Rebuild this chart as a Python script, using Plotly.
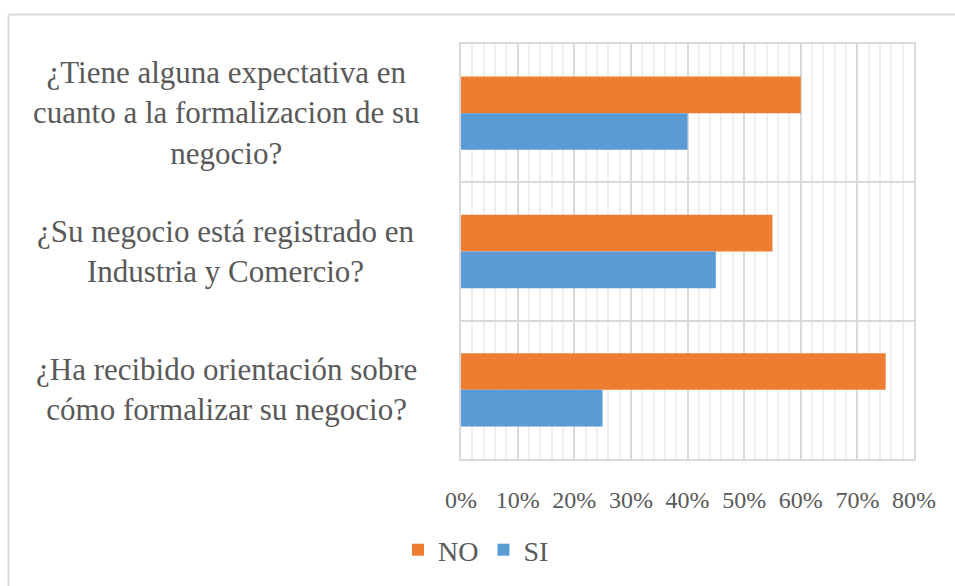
import plotly.graph_objects as go

categories = [
    "¿Tiene alguna expectativa en<br>cuanto a la formalizacion de su<br>negocio?",
    "¿Su negocio está registrado en<br>Industria y Comercio?",
    "¿Ha recibido orientación sobre<br>cómo formalizar su negocio?",
]
no_values = [0.60, 0.55, 0.75]
si_values = [0.40, 0.45, 0.25]
tick_vals = [0, 0.1, 0.2, 0.3, 0.4, 0.5, 0.6, 0.7, 0.8]
tick_text = ["0%", "10%", "20%", "30%", "40%", "50%", "60%", "70%", "80%"]

W, H = 955, 586
L, R, T, B = 461, 41, 44, 126
pw, ph = W - L - R, H - T - B

FONT = "Liberation Serif, Times New Roman, serif"
TXT = "#595959"
GRID = "#d9d9d9"

fig = go.Figure()
fig.add_trace(go.Bar(name="NO", y=categories, x=no_values, orientation="h",
                     marker=dict(color="#ED7D31", line=dict(width=0))))
fig.add_trace(go.Bar(name="SI", y=categories, x=si_values, orientation="h",
                     marker=dict(color="#5B9BD5", line=dict(width=0))))

def px_x(p):
    return (p - L) / pw

def px_y(p):
    return 1 - (p - T) / ph

annotations = []
for c in categories:
    annotations.append(dict(x=px_x(226), xref="paper", y=c, yref="y",
                            text=c, showarrow=False, xanchor="center", yanchor="middle",
                            align="center", font=dict(family=FONT, size=31, color=TXT)))

shapes = [
    dict(type="line", xref="paper", yref="paper", x0=px_x(8.5), x1=px_x(8.5),
         y0=px_y(700), y1=px_y(14.5), line=dict(color=GRID, width=2)),
    dict(type="line", xref="paper", yref="paper", x0=px_x(8.5), x1=px_x(1000),
         y0=px_y(14.5), y1=px_y(14.5), line=dict(color=GRID, width=2)),
]

fig.update_layout(
    width=W, height=H,
    margin=dict(l=L, r=R, t=T, b=B, pad=0),
    paper_bgcolor="white", plot_bgcolor="white",
    barmode="group", bargap=0.47, bargroupgap=0,
    font=dict(family=FONT, color=TXT),
    showlegend=True,
    legend=dict(orientation="h", x=px_x(398), xanchor="left", y=px_y(550), yanchor="middle",
                font=dict(family=FONT, size=28, color=TXT), bgcolor="rgba(0,0,0,0)",
                itemwidth=30, traceorder="normal"),
    annotations=annotations,
    shapes=shapes,
    xaxis=dict(range=[0, 0.8], tickvals=tick_vals, ticktext=tick_text,
               showgrid=True, gridcolor=GRID, gridwidth=1.5,
               zeroline=False, showline=True, linecolor=GRID, linewidth=1.5, mirror=True,
               ticks="", ticklabelstandoff=18,
               tickfont=dict(family=FONT, size=24, color=TXT),
               minor=dict(dtick=0.02, tick0=0, showgrid=True, gridcolor="#efefef", gridwidth=1.5)),
    yaxis=dict(autorange="reversed", tickson="boundaries", showgrid=True,
               gridcolor=GRID, gridwidth=1.5, showticklabels=False, ticks="",
               zeroline=False, showline=True, linecolor=GRID, linewidth=1.5, mirror=True),
)

fig.write_html("out.html", config={"displayModeBar": False},
               post_script="document.body.style.margin='0';")
